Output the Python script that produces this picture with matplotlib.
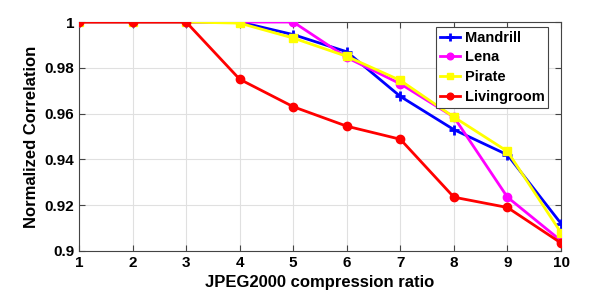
import matplotlib
matplotlib.use("Agg")
import matplotlib.pyplot as plt

ratios = [1, 2, 3, 4, 5, 6, 7, 8, 9, 10]
mandrill = [1.0, 1.0, 1.0, 1.0, 0.9945, 0.987, 0.9675, 0.953, 0.942, 0.912]
lena = [1.0, 1.0, 1.0, 1.0, 1.0, 0.9845, 0.973, 0.9585, 0.9235, 0.9045]
pirate = [1.0, 1.0, 1.0, 0.9995, 0.993, 0.985, 0.9745, 0.9585, 0.9435, 0.908]
livingroom = [1.0, 1.0, 1.0, 0.975, 0.963, 0.9545, 0.9488, 0.9235, 0.919, 0.9035]
yticks = [0.9, 0.92, 0.94, 0.96, 0.98, 1.0]
ytick_labels = ["0.9", "0.92", "0.94", "0.96", "0.98", "1"]

plt.rcParams['font.family'] = ['Liberation Sans', 'DejaVu Sans']
plt.rcParams['font.weight'] = 'bold'

fig = plt.figure(figsize=(6.14, 2.99), dpi=100)
ax = fig.add_axes([79/614, 1-251/299, (561-79)/614, (251-22)/299])

ax.plot(ratios, mandrill, color='#0000ff', lw=2, marker='+', ms=7, mew=2, label='Mandrill', zorder=3)
ax.plot(ratios, lena, color='#ff00ff', lw=2, marker='o', ms=6, label='Lena', zorder=3)
ax.plot(ratios, pirate, color='#ffff00', lw=2, marker='s', ms=6, label='Pirate', zorder=3)
ax.plot(ratios, livingroom, color='#ff0000', lw=2, marker='o', ms=6, label='Livingroom', zorder=4)

ax.set_xlim(1, 10)
ax.set_ylim(0.9, 1.0)
ax.set_xticks(ratios)
ax.set_yticks(yticks)
ax.set_yticklabels(ytick_labels)
ax.tick_params(labelsize=11, direction='in', length=4, color='#444444', top=True, right=True)
for s in ax.spines.values():
    s.set_color('#444444')
    s.set_linewidth(0.8)
ax.grid(True, color='#e0e0e0', lw=0.8)
ax.set_axisbelow(True)
ax.set_xlabel('JPEG2000 compression ratio', fontsize=12, fontweight='bold')
ax.set_ylabel('Normalized Correlation', fontsize=12, fontweight='bold')

leg = ax.legend(loc='upper right', fontsize=10.5, fancybox=False, framealpha=1,
                edgecolor='#444444', bbox_to_anchor=(1 - 13/482, 1 - 5/229),
                borderaxespad=0, handlelength=1.4, markerscale=0.8,
                handletextpad=0.3, labelspacing=0.4, borderpad=0.25)
leg.get_frame().set_linewidth(0.8)

fig.savefig('out.png', dpi=100)
